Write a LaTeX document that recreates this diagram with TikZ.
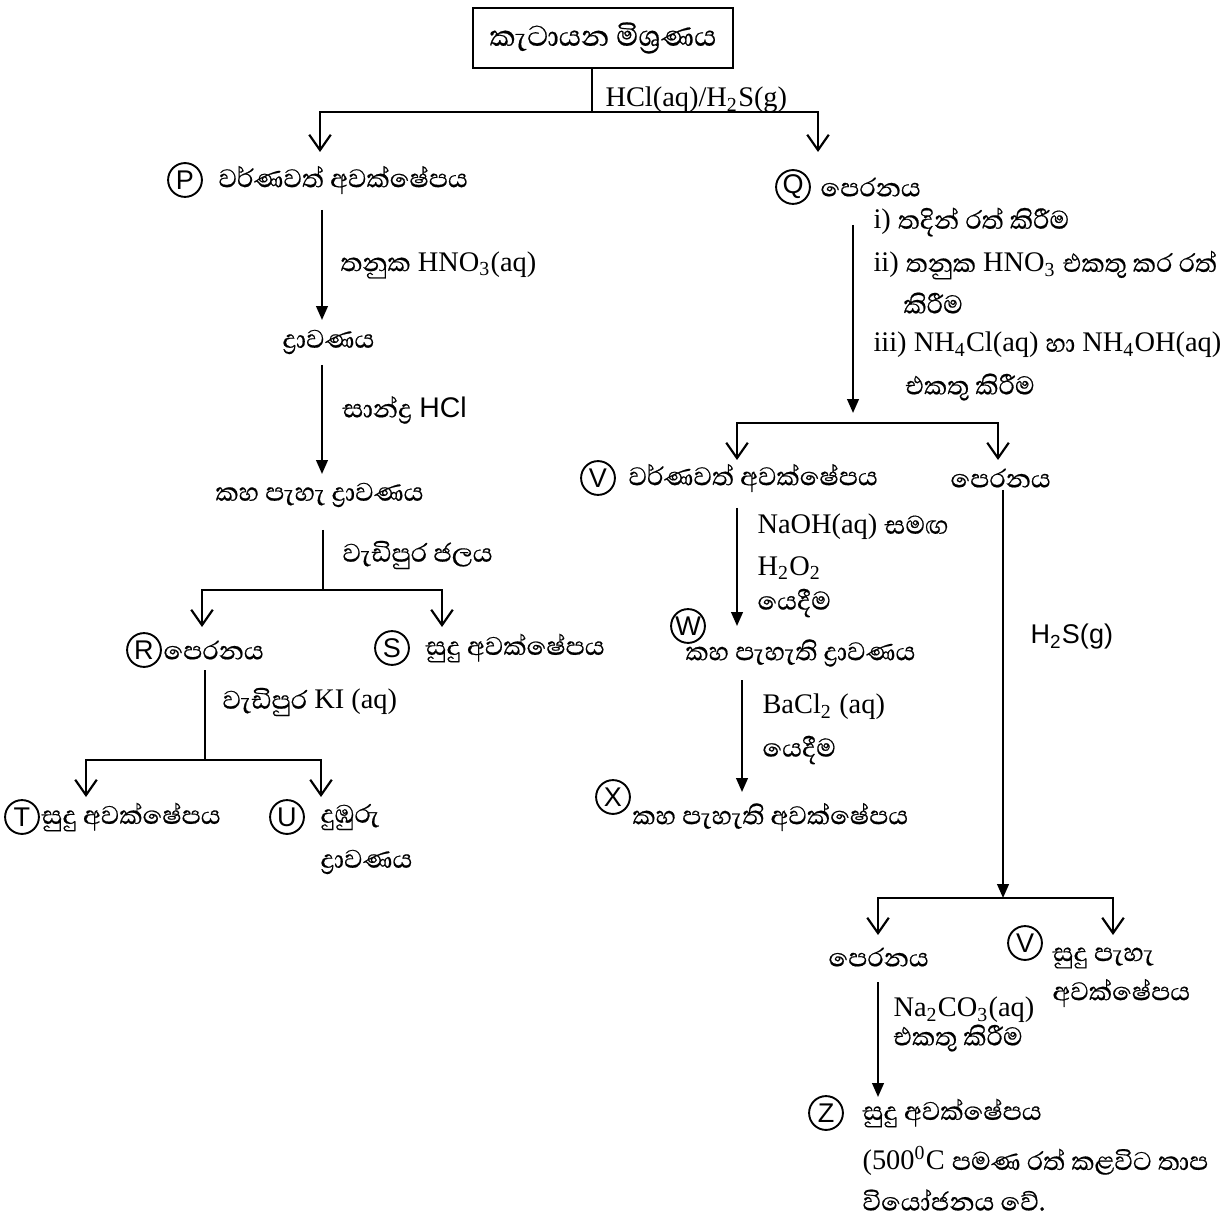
\documentclass[tikz,border=0pt]{standalone}
\usepackage{fontspec}
\setmainfont{Liberation Serif}
\setsansfont{Liberation Sans}
\newfontfamily\sinfont[Script=Sinhala,Scale=1.15,FakeBold=0.5]{Abhaya Libre}
\newcommand{\sn}[1]{{\sinfont #1}}
\usetikzlibrary{arrows.meta}
\tikzset{
  lbl/.style={anchor=west,inner sep=0pt,font=\fontsize{10.5}{12}\selectfont},
  tag/.style={circle,draw,line width=0.7pt,minimum size=0.44cm,inner sep=0pt,
    font=\sffamily\fontsize{10}{10}\selectfont},
  flow/.style={line width=0.8pt,-{Triangle[length=1.8mm,width=1.5mm]}},
  split/.style={line width=0.8pt,-{Straight Barb[length=2mm,width=2.8mm,line width=0.8pt]}},
  plain/.style={line width=0.8pt}
}

\begin{document}
\begin{tikzpicture}[x=0.013cm,y=-0.013cm]
  \useasboundingbox (0,0) rectangle (1221,1222);
  % start
  \node[draw,line width=0.8pt,minimum width=3.38cm,minimum height=0.78cm,
    font=\fontsize{11.8}{13}\selectfont] (mix) at (603,38)
    {\sn{කැටායන මිශ්^^^^200dරණය}};
  \coordinate (j0) at (592,112);
  \coordinate (pP) at (320,152);
  \coordinate (pQ) at (818,152);
  \draw[plain] (mix.south -| j0) -- (j0);
  \draw[split] (j0) -| (pP);
  \draw[split] (j0) -| (pQ);
  \node[lbl] (hcl) at (605,100) {HCl(aq)/H\textsubscript{2}S(g)};

  % circled letters
  \foreach \nm/\lt/\x/\y in {P/P/185/180, Q/Q/793/187, R/R/144/650, S/S/392/648,
      T/T/22/817, U/U/287/817, V/V/598/478, W/W/688/626, X/X/613/797,
      Vb/V/1025/943, Z/Z/826/1113}{
    \node[tag] (t\nm) at (\x,\y) {\lt};}

  % left branch
  \node[lbl] (Ppt) at (218,180) {\sn{වර්ණවත් අවක්ෂේපය}};
  \coordinate (a1) at (322,210);
  \coordinate (a1e) at (322,320);
  \draw[flow] (a1) -- (a1e);
  \node[lbl] at (340,265) {\sn{තනුක} HNO\textsubscript{3}(aq)};
  \node[lbl] (sol) at (282,342) {\sn{ද්^^^^200dරාවණය}};
  \coordinate (a2) at (322,365);
  \coordinate (a2e) at (322,474);
  \draw[flow] (a2) -- (a2e);
  \node[lbl] at (342,410) {\sn{සාන්ද්^^^^200dර} \textsf{HCl}};
  \node[lbl] (ysol) at (215,495) {\sn{කහ පැහැ ද්^^^^200dරාවණය}};
  \coordinate (a3) at (323,530);
  \coordinate (j2) at (323,590);
  \coordinate (pR) at (202,627);
  \coordinate (pS) at (442,627);
  \draw[plain] (a3) -- (j2);
  \draw[split] (j2) -| (pR);
  \draw[split] (j2) -| (pS);
  \node[lbl] at (342,555) {\sn{වැඩිපුර ජලය}};
  \node[lbl] (Rf) at (163,650) {\sn{පෙරනය}};
  \node[lbl] (Sp) at (425,648) {\sn{සුදු අවක්ෂේපය}};
  \coordinate (a4) at (205,670);
  \coordinate (j3) at (205,760);
  \coordinate (pT) at (86,797);
  \coordinate (pU) at (321,797);
  \draw[plain] (a4) -- (j3);
  \draw[split] (j3) -| (pT);
  \draw[split] (j3) -| (pU);
  \node[lbl] at (222,702) {\sn{වැඩිපුර} KI (aq)};
  \node[lbl] (Tp) at (41,817) {\sn{සුදු අවක්ෂේපය}};
  \node[lbl] (Us) at (320,817) {\sn{දුඹුරු}};
  \node[lbl] at (320,862) {\sn{ද්^^^^200dරාවණය}};

  % right branch
  \node[lbl] (Qf) at (820,187) {\sn{පෙරනය}};
  \coordinate (b1) at (853,225);
  \coordinate (b1e) at (853,413);
  \draw[flow] (b1) -- (b1e);
  \node[lbl] at (873,222) {i) \sn{තදින් රත් කිරීම}};
  \node[lbl] at (873,265) {ii) \sn{තනුක} HNO\textsubscript{3} \sn{එකතු කර රත්}};
  \node[lbl] at (903,303) {\sn{කිරීම}};
  \node[lbl] at (873,345) {iii) NH\textsubscript{4}Cl(aq) \sn{හා} NH\textsubscript{4}OH(aq)};
  \node[lbl] at (905,387) {\sn{එකතු කිරීම}};
  \coordinate (j4) at (853,423);
  \coordinate (pV) at (737,460);
  \coordinate (pF) at (998,460);
  \draw[split] (j4) -| (pV);
  \draw[split] (j4) -| (pF);
  \node[lbl] (Vp) at (628,478) {\sn{වර්ණවත් අවක්ෂේපය}};
  \node[lbl] (Ff) at (950,478) {\sn{පෙරනය}};
  \coordinate (b2) at (737,508);
  \coordinate (b2e) at (737,626);
  \draw[flow] (b2) -- (b2e);
  \node[lbl] at (757,527) {NaOH(aq) \sn{සමඟ}};
  \node[lbl] at (757,568) {H\textsubscript{2}O\textsubscript{2}};
  \node[lbl] at (757,603) {\sn{යෙදීම}};
  \node[lbl] (Ws) at (685,653) {\sn{කහ පැහැති ද්^^^^200dරාවණය}};
  \coordinate (b3) at (742,680);
  \coordinate (b3e) at (742,792);
  \draw[flow] (b3) -- (b3e);
  \node[lbl] at (762,707) {BaCl\textsubscript{2} (aq)};
  \node[lbl] at (762,750) {\sn{යෙදීම}};
  \node[lbl] (Xp) at (632,817) {\sn{කහ පැහැති අවක්ෂේපය}};
  \coordinate (b4) at (1003,490);
  \coordinate (j5) at (1003,898);
  \draw[flow] (b4) -- (j5);
  \node[lbl,font=\sffamily\fontsize{10}{12}\selectfont] at (1030,637) {H\textsubscript{2}S(g)};
  \coordinate (pE) at (878,935);
  \coordinate (pY) at (1113,935);
  \draw[split] (j5) -| (pE);
  \draw[split] (j5) -| (pY);
  \node[lbl] (Ef) at (828,957) {\sn{පෙරනය}};
  \node[lbl] (Yp) at (1052,958) {\sn{සුදු පැහැ}};
  \node[lbl] at (1052,993) {\sn{අවක්ෂේපය}};
  \coordinate (b5) at (878,982);
  \coordinate (b5e) at (878,1097);
  \draw[flow] (b5) -- (b5e);
  \node[lbl] at (893,1010) {Na\textsubscript{2}CO\textsubscript{3}(aq)};
  \node[lbl] at (893,1038) {\sn{එකතු කිරීම}};
  \node[lbl] (Zp) at (862,1113) {\sn{සුදු අවක්ෂේපය}};
  \node[lbl] at (862,1161) {(500\textsuperscript{0}C \sn{පමණ රත් කළවිට තාප}};
  \node[lbl] at (862,1200) {\sn{වියෝජනය වේ.}};
\end{tikzpicture}
\end{document}
